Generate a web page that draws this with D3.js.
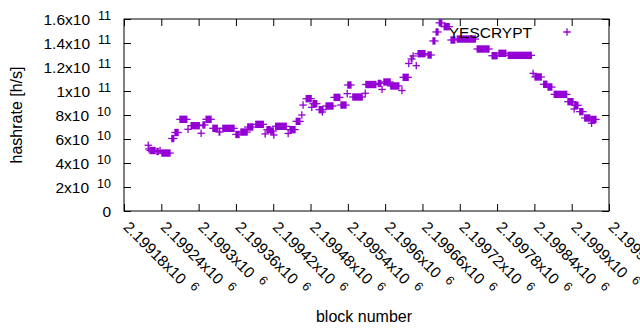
<!DOCTYPE html>
<html>
<head>
<meta charset="utf-8">
<script src="https://cdn.jsdelivr.net/npm/d3@7"></script>
<style>
body { margin: 0; background: #fff; }
text { font-family: "Liberation Sans", Arial, sans-serif; fill: #000; }
</style>
</head>
<body>
<div id="chart-area"></div>
<script>
// hashrate per block range (runs of blocks sharing the same value)
var runStart = [2199219,2199220,2199222,2199233,2199238,2199241,2199257,2199262,2199270,2199283,
  2199288,2199304,2199307,2199312,2199323,2199333,2199339,2199360,2199368,2199379,
  2199392,2199407,2199410,2199416,2199421,2199424,2199444,2199447,2199457,2199466,
  2199468,2199473,2199482,2199484,2199494,2199499,2199505,2199518,2199529,2199539,
  2199540,2199548,2199568,2199569,2199589,2199595,2199598,2199609,2199627,2199629,
  2199638,2199642,2199645,2199650,2199653,2199669,2199677,2199682,2199687,2199695,
  2199706,2199716,2199748,2199772,2199783,2199798,2199838,2199841,2199855,2199862,
  2199872,2199894,2199904,2199905,2199913,2199921,2199931,2199932];
var runEnd = [2199219,2199220,2199230,2199235,2199238,2199254,2199260,2199267,2199281,2199283,
  2199301,2199304,2199310,2199320,2199330,2199334,2199357,2199365,2199378,2199387,
  2199404,2199407,2199415,2199420,2199421,2199441,2199444,2199455,2199463,2199466,
  2199468,2199481,2199482,2199490,2199500,2199499,2199516,2199527,2199537,2199539,
  2199545,2199563,2199568,2199585,2199593,2199595,2199608,2199622,2199627,2199637,
  2199638,2199643,2199645,2199650,2199664,2199674,2199680,2199685,2199691,2199703,
  2199712,2199745,2199767,2199780,2199794,2199835,2199838,2199851,2199860,2199868,
  2199892,2199902,2199904,2199910,2199918,2199929,2199939,2199932];
var hashrate = [5.48e10,5.17e10,5.04e10,4.96e10,5.04e10,4.83e10,6.04e10,6.54e10,7.64e10,6.81e10,
  7.11e10,6.48e10,7.17e10,7.64e10,6.89e10,6.58e10,6.89e10,6.38e10,6.58e10,7.0e10,
  7.22e10,6.42e10,6.78e10,6.67e10,6.33e10,7.06e10,6.46e10,6.78e10,7.47e10,8.0e10,
  8.83e10,9.36e10,8.64e10,8.94e10,8.44e10,8.25e10,8.75e10,9.47e10,8.83e10,9.78e10,
  10.5e10,9.5e10,9.81e10,10.54e10,10.63e10,10.13e10,10.75e10,10.42e10,10.04e10,11.14e10,
  12.29e10,12.67e10,12.92e10,12.11e10,13.11e10,13.0e10,14.17e10,14.92e10,15.68e10,15.36e10,
  14.25e10,14.33e10,13.5e10,12.94e10,13.14e10,12.97e10,11.47e10,11.17e10,10.56e10,10.33e10,
  9.72e10,9.11e10,8.5e10,8.81e10,8.28e10,7.75e10,7.63e10,7.31e10];

var xTicks = [2199180,2199240,2199300,2199360,2199420,2199480,2199540,2199600,2199660,2199720,2199780,2199840,2199900,2199960];
var yTicks = [0,2e10,4e10,6e10,8e10,1e11,1.2e11,1.4e11,1.6e11];
var seriesName = "YESCRYPT";

var margin = {left: 124, right: 31, top: 19, bottom: 119};
var width = 640 - margin.left - margin.right;
var height = 330 - margin.top - margin.bottom;
var color = "#9400d3";
var r = 3.7, sw = 1.3;

var svg = d3.select("#chart-area").append("svg")
  .attr("width", 640).attr("height", 330);
var g = svg.append("g")
  .attr("transform", "translate(" + margin.left + "," + margin.top + ")");

var x = d3.scaleLinear().domain([2199180, 2199960]).range([0, width]);
var y = d3.scaleLinear().domain([0, 1.6e11]).range([height, 0]);

// split a value into mantissa / exponent like gnuplot "%gx10^{%T}"
function sci(v) {
  if (v === 0) return null;
  var e = Math.floor(Math.log10(v) + 1e-9);
  var m = +(v / Math.pow(10, e)).toFixed(5);
  return {m: String(m), e: String(e)};
}

function writeSci(sel, v, supDy) {
  var s = sci(v);
  sel.text(null);
  if (!s) { sel.append("tspan").text("0"); return; }
  sel.append("tspan").text(s.m + "x10");
  sel.append("tspan").attr("dx", 8).attr("dy", supDy).attr("font-size", "12.5px").text(s.e);
}

// left axis
var yAxis = g.append("g")
  .call(d3.axisLeft(y).tickValues(yTicks).tickSizeInner(-7).tickSizeOuter(0).tickPadding(13));
yAxis.select(".domain").remove();
yAxis.selectAll("line").attr("stroke", "#000");
yAxis.selectAll("text")
  .attr("font-size", "15.5px").attr("font-family", null).attr("dy", "0.36em")
  .each(function(d) { writeSci(d3.select(this), d, -5.5); });

// mirrored ticks right + top
var yRight = g.append("g").attr("transform", "translate(" + width + ",0)")
  .call(d3.axisRight(y).tickValues(yTicks).tickSizeInner(-7).tickSizeOuter(0).tickFormat(""));
yRight.select(".domain").remove();
var xTop = g.append("g")
  .call(d3.axisTop(x).tickValues(xTicks).tickSizeInner(-7).tickSizeOuter(0).tickFormat(""));
xTop.select(".domain").remove();

// bottom axis with rotated labels
var xAxis = g.append("g").attr("transform", "translate(0," + height + ")")
  .call(d3.axisBottom(x).tickValues(xTicks).tickSizeInner(-7).tickSizeOuter(0));
xAxis.select(".domain").remove();
xAxis.selectAll("line").attr("stroke", "#000");
xAxis.selectAll("text")
  .attr("font-size", "15.5px").attr("font-family", null)
  .attr("x", 0).attr("y", 0).attr("dy", "0.36em")
  .attr("text-anchor", "start")
  .attr("transform", "translate(2,13) rotate(45)")
  .each(function(d) { writeSci(d3.select(this), d, -5.5); });

// frame
g.append("rect").attr("width", width).attr("height", height)
  .attr("fill", "none").attr("stroke", "#000").attr("stroke-width", 1);

// points: "+" marks, runs of equal values merge into bars
var runs = runStart.map(function(s, i) { return {s: s, e: runEnd[i], v: hashrate[i]}; });
var pts = g.append("g").attr("class", "points");
var marks = pts.selectAll("g").data(runs).enter().append("g");
marks.append("path")
  .attr("d", function(d) { return "M" + (x(d.s) - r) + "," + y(d.v) + "H" + (x(d.e) + r); })
  .attr("stroke", color).attr("stroke-width", sw).attr("fill", "none");
marks.append("rect")
  .attr("x", function(d) { return x(d.s) - sw / 2; })
  .attr("width", function(d) { return x(d.e) - x(d.s) + sw; })
  .attr("y", function(d) { return y(d.v) - r; })
  .attr("height", 2 * r)
  .attr("fill", color);

// key
var key = svg.append("g");
key.append("text").attr("x", 532).attr("y", 37.5).attr("text-anchor", "end")
  .attr("font-size", "15.5px").text(seriesName);
key.append("path").attr("d", "M" + (567 - r) + ",32H" + (567 + r) + "M567," + (32 - r) + "V" + (32 + r))
  .attr("stroke", color).attr("stroke-width", sw);

// axis titles
svg.append("text").attr("transform", "translate(21.5," + (margin.top + height / 2) + ") rotate(-90)")
  .attr("text-anchor", "middle").attr("font-size", "16px").text("hashrate [h/s]");
svg.append("text").attr("x", 364).attr("y", 321.7).attr("text-anchor", "middle")
  .attr("font-size", "16px").text("block number");
</script>
</body>
</html>
